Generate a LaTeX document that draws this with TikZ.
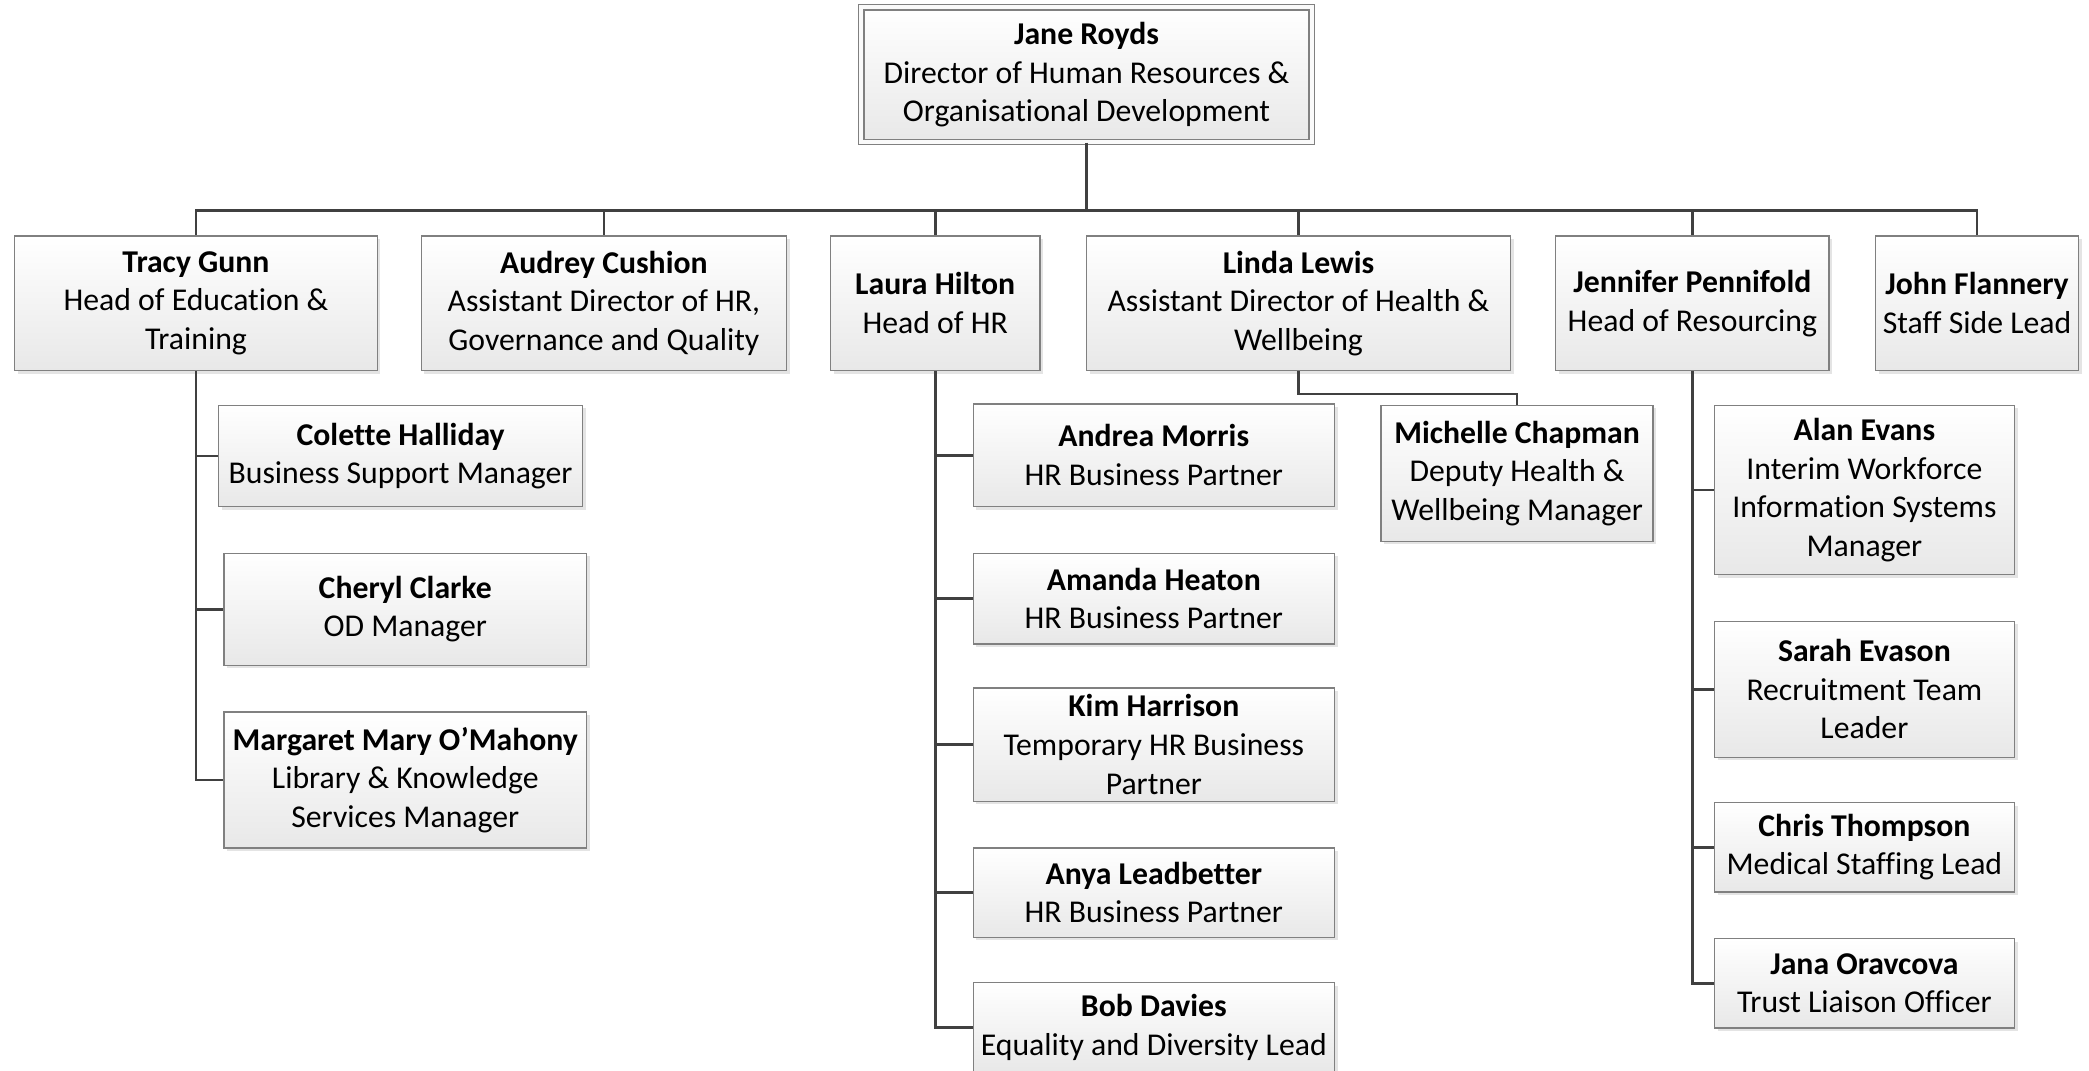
\documentclass[tikz,border=0pt]{standalone}
\usepackage{fontspec}
\setmainfont[Ligatures=NoCommon]{Carlito}
\usetikzlibrary{shadows}
\tikzset{every picture/.style={line width=0.75pt}}
\tikzset{
  orgbox/.style={draw={rgb,255:red,128;green,128;blue,128}, line width=0.5pt, rectangle, inner sep=0pt,
    top color=white, bottom color={rgb,255:red,232;green,232;blue,232},
    drop shadow={shadow xshift=1.2pt, shadow yshift=-1.2pt, fill=black!30, opacity=0.35},
    align=center, font=\fontsize{11.9}{14.5}\selectfont,
    execute at begin node={\rule{0pt}{11pt}}},
  link/.style={draw={rgb,255:red,64;green,64;blue,64}, line width=1pt}
}

\begin{document}
\begin{tikzpicture}[x=0.5pt,y=0.5pt,yscale=-1,xscale=1]
%set diagram area: 1567 x 803
\useasboundingbox (0,0) rectangle (1567,803);

%Shape: Rectangle (director, double frame)
\node[orgbox, double={rgb,255:red,250;green,250;blue,250}, double distance=1.5pt, minimum width=169pt, minimum height=50.5pt] (jane) at (815,56) {\textbf{Jane Royds}\\Director of Human Resources \&\\Organisational Development};

%Shape: Rectangle (heads)
\node[orgbox, minimum width=136pt, minimum height=50.5pt] (tracy) at (147,227.5) {\textbf{Tracy Gunn}\\Head of Education \&\\Training};
\node[orgbox, minimum width=137pt, minimum height=50.5pt] (audrey) at (453,227.5) {\textbf{Audrey Cushion}\\Assistant Director of HR,\\Governance and Quality};
\node[orgbox, minimum width=78.5pt, minimum height=50.5pt] (laura) at (701.5,227.5) {\textbf{Laura Hilton}\\Head of HR};
\node[orgbox, minimum width=159pt, minimum height=50.5pt] (linda) at (974,227.5) {\textbf{Linda Lewis}\\Assistant Director of Health \&\\Wellbeing};
\node[orgbox, minimum width=102.5pt, minimum height=50.5pt] (jennifer) at (1269.5,227.5) {\textbf{Jennifer Pennifold}\\Head of Resourcing};
\node[orgbox, minimum width=76pt, minimum height=50.5pt] (john) at (1483,227.5) {\textbf{John Flannery}\\Staff Side Lead};

%Shape: Rectangle (education & training)
\node[orgbox, minimum width=136.5pt, minimum height=38pt] (colette) at (300.5,342) {\textbf{Colette Halliday}\\Business Support Manager};
\node[orgbox, minimum width=136pt, minimum height=42pt] (cheryl) at (304,457) {\textbf{Cheryl Clarke}\\OD Manager};
\node[orgbox, minimum width=136pt, minimum height=51pt] (margaret) at (304,585) {\textbf{Margaret Mary O’Mahony}\\Library \& Knowledge\\Services Manager};

%Shape: Rectangle (HR)
\node[orgbox, minimum width=135.5pt, minimum height=38.5pt] (andrea) at (865.5,341.5) {\textbf{Andrea Morris}\\HR Business Partner};
\node[orgbox, minimum width=135.5pt, minimum height=34pt] (amanda) at (865.5,449) {\textbf{Amanda Heaton}\\HR Business Partner};
\node[orgbox, minimum width=135.5pt, minimum height=42.5pt] (kim) at (865.5,558.5) {\textbf{Kim Harrison}\\Temporary HR Business\\Partner};
\node[orgbox, minimum width=135.5pt, minimum height=33.5pt] (anya) at (865.5,669.5) {\textbf{Anya Leadbetter}\\HR Business Partner};
\node[orgbox, minimum width=135.5pt, minimum height=33.5pt] (bob) at (865.5,770.5) {\textbf{Bob Davies}\\Equality and Diversity Lead};

%Shape: Rectangle (health & wellbeing)
\node[orgbox, minimum width=102pt, minimum height=51pt] (michelle) at (1138,355) {\textbf{Michelle Chapman}\\Deputy Health \&\\Wellbeing Manager};

%Shape: Rectangle (resourcing)
\node[orgbox, minimum width=112.5pt, minimum height=63.5pt] (alan) at (1398.5,367.5) {\textbf{Alan Evans}\\Interim Workforce\\Information Systems\\Manager};
\node[orgbox, minimum width=112.5pt, minimum height=51pt] (sarah) at (1398.5,517) {\textbf{Sarah Evason}\\Recruitment Team\\Leader};
\node[orgbox, minimum width=112.5pt, minimum height=33.5pt] (chris) at (1398.5,635.5) {\textbf{Chris Thompson}\\Medical Staffing Lead};
\node[orgbox, minimum width=112.5pt, minimum height=33.5pt] (jana) at (1398.5,737.5) {\textbf{Jana Oravcova}\\Trust Liaison Officer};

%Straight Lines (bus)
\coordinate (bus) at (815,158);
\draw[link] (jane.south) -- (bus);
\foreach \n in {tracy,audrey,laura,linda,jennifer,john}
  \draw[link] (bus) -| (\n.north);

%Straight Lines (children)
\foreach \n in {colette,cheryl,margaret}
  \draw[link] (tracy.south) |- (\n.west);
\foreach \n in {andrea,amanda,kim,anya,bob}
  \draw[link] (laura.south) |- (\n.west);
\foreach \n in {alan,sarah,chris,jana}
  \draw[link] (jennifer.south) |- (\n.west);
\draw[link] (linda.south) -- ++(0,17) -| (michelle.north);

\end{tikzpicture}
\end{document}
